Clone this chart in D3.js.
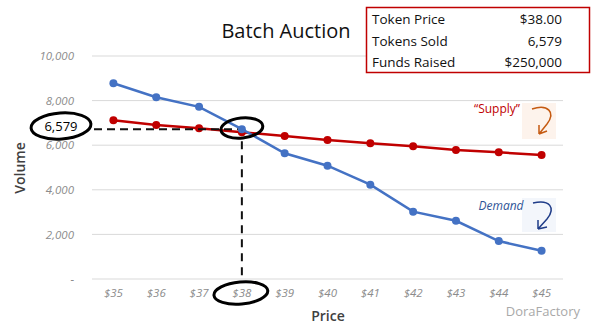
<!DOCTYPE html>
<html><head><meta charset="utf-8">
<script src="https://cdn.jsdelivr.net/npm/d3@7"></script>
<style>body{margin:0;background:#fff}svg{display:block}</style>
</head><body>
<svg id="c" width="606" height="326"></svg>
<script>
const prices = ["$35","$36","$37","$38","$39","$40","$41","$42","$43","$44","$45"];
const demand = [8780,8150,7720,6720,5640,5080,4230,3020,2610,1700,1270];
const supply = [7120,6910,6760,6579,6410,6230,6085,5950,5785,5680,5560];
const yTicks = [0,2000,4000,6000,8000,10000];
const yTickLabels = ["-","2,000","4,000","6,000","8,000","10,000"];
const infoLabels = ["Token Price","Tokens Sold","Funds Raised"];
const infoValues = ["$38.00","6,579","$250,000"];
const clearingPrice = "$38";
const clearingVolume = 6579;

const font = "'Open Sans', 'DejaVu Sans', sans-serif";
const svg = d3.select("#c");
const x = d3.scaleBand().domain(prices).range([92,563]);
const y = d3.scaleLinear().domain([0,10000]).range([279,56]);
const cx = d => x(d) + x.bandwidth()/2;

// gridlines
svg.append("g").selectAll("line").data(yTicks).join("line")
  .attr("x1",92).attr("x2",563).attr("y1",d=>y(d)).attr("y2",d=>y(d))
  .attr("stroke","#d9d9d9").attr("stroke-width",1);

// y axis
const yAxis = d3.axisLeft(y).tickValues(yTicks).tickSize(0).tickPadding(18)
  .tickFormat((d,i)=>yTickLabels[i]);
const gy = svg.append("g").attr("transform","translate(92,0)").call(yAxis);
gy.select(".domain").remove();
gy.selectAll("text").attr("fill","#8c8c8c").style("font-family",font).style("font-size","11.5px").style("font-style","italic");

// x axis
const xAxis = d3.axisBottom(x).tickSize(0).tickPadding(10);
const gx = svg.append("g").attr("transform","translate(0,279)").call(xAxis);
gx.select(".domain").remove();
gx.selectAll("text").attr("fill","#8c8c8c").style("font-family",font).style("font-size","11.5px").style("font-style","italic");

// axis titles
svg.append("text").attr("transform","translate(25,168) rotate(-90)").attr("text-anchor","middle")
  .style("font-family",font).style("font-size","14px").style("font-weight","600").attr("fill","#404040").text("Volume");
svg.append("text").attr("x",328).attr("y",321).attr("text-anchor","middle")
  .style("font-family",font).style("font-size","14px").style("font-weight","600").attr("fill","#404040").text("Price");

// title
svg.append("text").attr("x",286).attr("y",38).attr("text-anchor","middle")
  .style("font-family",font).style("font-size","20px").attr("fill","#111").text("Batch Auction");

// lines
const line = d3.line().x((d,i)=>cx(prices[i])).y(d=>y(d));
function series(vals,color){
  svg.append("path").datum(vals).attr("d",line).attr("fill","none").attr("stroke",color).attr("stroke-width",2.5);
  svg.append("g").selectAll("circle").data(vals).join("circle")
    .attr("cx",(d,i)=>cx(prices[i])).attr("cy",d=>y(d)).attr("r",4).attr("fill",color);
}
series(supply,"#c00000");
series(demand,"#4472c4");

// dashed guide lines
const px = cx(clearingPrice), py = y(clearingVolume) - 3;
svg.append("line").attr("x1",94).attr("x2",px-4).attr("y1",py).attr("y2",py)
  .attr("stroke","#111").attr("stroke-width",2).attr("stroke-dasharray","8,5");
svg.append("line").attr("x1",px).attr("x2",px).attr("y1",py+12).attr("y2",y(0))
  .attr("stroke","#111").attr("stroke-width",2).attr("stroke-dasharray","8,6");

// ellipses
function ell(cxv,cyv,rx,ry,rot){
  svg.append("ellipse").attr("cx",cxv).attr("cy",cyv).attr("rx",rx).attr("ry",ry)
    .attr("transform",`rotate(${rot},${cxv},${cyv})`)
    .attr("fill","none").attr("stroke","#000").attr("stroke-width",3);
}
ell(61,126,30,13,-4);
ell(px,128,21,10,-6);
ell(px-1,293,27,11,-5);

svg.append("text").attr("x",61).attr("y",131).attr("text-anchor","middle")
  .style("font-family",font).style("font-size","13px").attr("fill","#000").text(d3.format(",")(clearingVolume));

// info box
svg.append("rect").attr("x",366.5).attr("y",7.5).attr("width",223).attr("height",65)
  .attr("fill","#fff").attr("stroke","#c00000").attr("stroke-width",1.5);
infoLabels.forEach((t,i)=>{
  svg.append("text").attr("x",372).attr("y",24+i*21.5).style("font-family",font).style("font-size","13.5px").attr("fill","#111").text(t);
  svg.append("text").attr("x",562).attr("y",24+i*21.5).attr("text-anchor","end").style("font-family",font).style("font-size","13.5px").attr("fill","#111").text(infoValues[i]);
});

// Supply/Demand labels with arrows
svg.append("rect").attr("x",522).attr("y",103).attr("width",34).attr("height",36).attr("fill","#fdf3ec");
svg.append("text").attr("x",497).attr("y",113).attr("text-anchor","middle").style("font-family",font)
  .style("font-size","12px").attr("fill","#c00000").text("\u201cSupply\u201d");
svg.append("path").attr("d","M532,109 C548,104 556,112 547,124 L539,134 M539,134 L539,125 M539,134 L547,131")
  .attr("fill","none").attr("stroke","#c55a11").attr("stroke-width",1.5);

svg.append("rect").attr("x",522).attr("y",198).attr("width",34).attr("height",34).attr("fill","#f3f6fb");
svg.append("text").attr("x",501).attr("y",210).attr("text-anchor","middle").style("font-family",font)
  .style("font-size","12px").style("font-style","italic").attr("fill","#2f5597").text("Demand");
svg.append("path").attr("d","M533,203 C550,199 556,208 547,219 L538,229 M538,229 L538,220 M538,229 L547,227")
  .attr("fill","none").attr("stroke","#1f3c88").attr("stroke-width",1.5);

// watermark
svg.append("text").attr("x",580).attr("y",316).attr("text-anchor","end").style("font-family",font)
  .style("font-size","13px").attr("fill","#9a9a9a").attr("opacity",0.85).text("DoraFactory");
</script>
</body></html>
